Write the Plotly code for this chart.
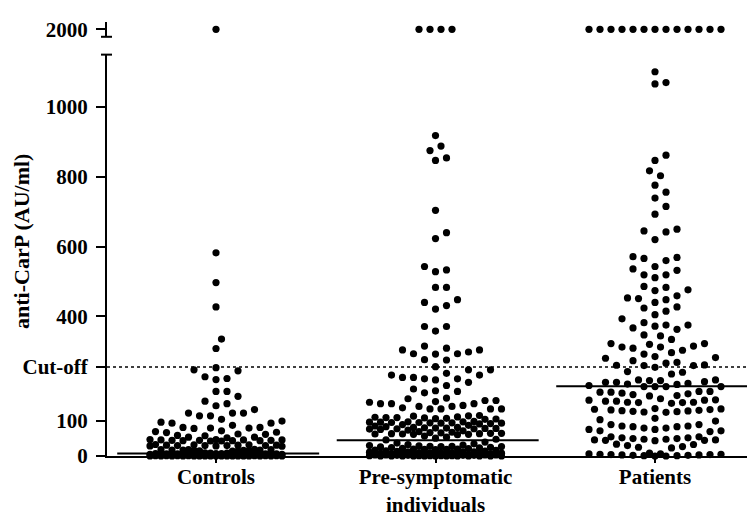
import numpy as np
import plotly.graph_objects as go

# ---------------- data ----------------
categories = ["Controls", "Pre-symptomatic<br>individuals", "Patients"]

controls = [
    2000,
    582, 497, 427, 335, 308, 253, 247, 244, 227, 222, 219, 185, 185, 171,
    157, 150, 144, 133, 123, 123, 123, 115, 115, 105, 100, 97, 94, 94, 88,
    82, 80, 79, 80, 82, 72, 68, 67, 70, 63, 58, 54, 52, 54, 59, 62,
    46, 45, 44, 47, 43, 45, 46, 44, 45, 47, 43, 44, 46,
    32, 30, 31, 29, 33, 30, 28, 31, 32, 30, 29, 31, 30,
    18, 16, 17, 15, 19, 16, 14, 17, 18, 15, 16, 17, 18,
    9, 8, 8, 7, 7, 7, 6, 6, 6, 6, 5, 5, 5, 5, 4, 4, 4, 4, 4, 3, 3, 3, 3, 3,
    2, 2, 2, 2, 2, 2, 1, 1, 1, 1, 1, 1, 1, 0, 0, 0, 0, 0, 0, 0, 0, 0, 0,
    0, 0, 0, 0, 0, 0, 0, 0,
]

presymptomatic = [
    2000, 2000, 2000, 2000,
    918, 888, 875, 854, 847, 704, 640, 623, 543, 533, 528, 483, 483,
    448, 440, 431, 421, 371, 371, 358,
    315, 309, 304, 304, 298, 293, 293, 292, 276, 275, 256, 247, 247, 237,
    232, 232, 225, 225, 221, 221, 218, 211, 202, 192, 187, 185, 181,
    166, 164, 159, 159, 156, 154, 150, 150, 150, 145, 142, 142, 138,
    135, 135, 135, 135,
    116, 115, 114, 112, 111, 110, 110, 109, 108, 107, 106, 105,
    99, 98, 98, 97, 97, 96, 96, 95, 95, 94, 94, 93, 92, 90, 88, 86, 84,
    82, 82, 81, 80, 80, 79, 79, 78, 78, 77, 76, 74, 72, 70, 68, 67, 66,
    65, 65, 64, 64, 63, 63, 62, 62, 61,
    57, 54, 51, 48, 46,
    40, 37, 35, 33, 31, 30, 29, 28, 28, 27, 27, 26, 25, 24, 23, 22, 21,
    20, 20, 19, 19, 18, 17, 16, 15, 14, 13, 12, 12, 11, 11, 10, 10, 9, 9,
    8, 8, 7, 7, 6, 6, 5, 5, 5, 4, 4, 4, 3, 3, 3, 3, 2, 2, 2, 2,
    1, 1, 1, 1, 1, 0, 0, 0, 0, 0, 0, 0, 0, 0, 0, 0, 0,
]

patients = [
    2000, 2000, 2000, 2000, 2000, 2000, 2000, 2000, 2000, 2000, 2000, 2000, 2000,
    1101, 1070, 1066, 862, 847, 817, 803, 776, 756, 739, 715, 693,
    650, 645, 642, 620, 571, 569, 566, 560, 543, 536, 532, 519, 519, 511,
    486, 483, 476, 474, 459, 453, 451, 448, 440, 427, 424, 415, 405,
    393, 382, 375, 375, 372, 367, 363, 347, 344,
    334, 322, 322, 320, 315, 312, 312, 309, 303, 296, 292, 285, 282, 280, 273,
    268, 266, 261, 260, 259, 259, 254, 242, 240, 235,
    218, 218, 216, 216, 213, 211, 211, 208, 206, 205, 202, 199, 199, 199, 199,
    185, 185, 183, 183, 180, 178, 176, 173, 172,
    164, 161, 160, 160, 157, 157, 154, 154, 153, 153, 151,
    136, 134, 132, 130, 128, 126, 125, 127, 129, 131, 133, 135,
    108, 104, 100,
    90, 86, 84, 80, 76, 72, 70, 72, 76, 80, 84, 86, 90,
    55, 52, 50, 48, 46, 45, 44, 45, 46, 48, 50, 52, 55,
    34, 30, 27, 25, 23, 33,
    8, 6, 5, 4, 3, 2, 1, 0, 0, 1, 2, 3, 4, 5, 6,
]

group_values = [controls, presymptomatic, patients]
medians = [7, 45, 200]
cut_off = 255
y_tick_values = [0, 100, 255, 400, 600, 800, 1000]
y_tick_labels = ["0", "100", "Cut-off", "400", "600", "800", "1000"]
top_tick_values = [2000]
top_tick_labels = ["2000"]

# ---------------- geometry / style ----------------
W, H = 755, 514
OFF = 8                      # page body margin of the html page
AXIS_X, AXIS_Y = 107, 456    # target page px of the axes corner
ML = AXIS_X - OFF
MR = OFF
MT = 2
MB = H - (AXIS_Y - OFF)
plot_w = W - ML - MR
plot_h = H - MT - MB
bottom_fig = AXIS_Y - OFF
x_range = [-0.4966, 2.4556]
y_range = [0, 1150]
top_range = [1900, 2100]
low_domain = [0, (bottom_fig - (51 - OFF)) / plot_h]
top_domain = [(bottom_fig - (33 - OFF)) / plot_h, (bottom_fig - (18 - OFF)) / plot_h]

px_per_cat = plot_w / (x_range[1] - x_range[0])
px_per_val = low_domain[1] * plot_h / (y_range[1] - y_range[0])

STEP = 5.5      # px, half-grid step
COLL = 10.8     # px, collision distance
MAXK = 12       # half steps each side
DOT = 7.2
FONT = "Liberation Serif"


def swarm_offsets(vals):
    """Grid beeswarm: returns x offsets (px) for each value."""
    vals = np.asarray(vals, dtype=float)
    order = np.argsort(vals, kind="stable")
    cand = [0]
    for k in range(1, MAXK + 1):
        cand += [k, -k]
    cand = np.array(cand) * STEP
    px = np.zeros(len(vals))
    placed_x, placed_y = [], []
    for idx in order:
        y = vals[idx] * px_per_val
        if not placed_x:
            px[idx] = 0.0
            placed_x.append(0.0)
            placed_y.append(y)
            continue
        ax = np.array(placed_x)
        ay = np.array(placed_y)
        mask = np.abs(ay - y) < COLL
        ax, ay = ax[mask], ay[mask]
        if len(ax) == 0:
            chosen = 0.0
        else:
            d = np.sqrt((cand[:, None] - ax[None, :]) ** 2 + (y - ay[None, :]) ** 2).min(axis=1)
            free = np.where(d >= COLL)[0]
            if len(free):
                chosen = cand[free[0]]
            else:
                chosen = cand[int(np.argmax(d))]
        px[idx] = chosen
        placed_x.append(chosen)
        placed_y.append(y)
    return px


fig = go.Figure()

# median lines
for i, m in enumerate(medians):
    fig.add_trace(go.Scatter(
        x=[i - 0.45, i + 0.47], y=[m, m], mode="lines",
        line=dict(color="black", width=2), hoverinfo="skip",
        showlegend=False, cliponaxis=False))

for i, vals in enumerate(group_values):
    vals = np.asarray(vals, dtype=float)
    low = vals[vals <= y_range[1]]
    high = vals[vals > y_range[1]]
    offs = swarm_offsets(low)
    fig.add_trace(go.Scatter(
        x=i + offs / px_per_cat, y=low, mode="markers",
        marker=dict(color="black", size=DOT, line=dict(width=0)),
        showlegend=False, cliponaxis=False, xaxis="x", yaxis="y"))
    n = len(high)
    if n:
        hoffs = (np.arange(n) - (n - 1) / 2) * 11.0
        fig.add_trace(go.Scatter(
            x=i + hoffs / px_per_cat, y=high, mode="markers",
            marker=dict(color="black", size=DOT, line=dict(width=0)),
            showlegend=False, cliponaxis=False, xaxis="x", yaxis="y2"))

tick_font = dict(family=FONT, size=21, color="black", weight="bold")

fig.update_layout(
    width=W, height=H,
    margin=dict(l=ML, r=MR, t=MT, b=MB, pad=0),
    paper_bgcolor="white", plot_bgcolor="white",
    font=dict(family=FONT, size=21, color="black", weight="bold"),
    showlegend=False,
    xaxis=dict(
        range=x_range, tickvals=[0, 1, 2], ticktext=categories,
        showline=True, linecolor="black", linewidth=2,
        ticks="outside", ticklen=5, tickwidth=2, tickcolor="black",
        ticklabelstandoff=-4,
        showgrid=False, zeroline=False,
        tickfont=dict(family=FONT, size=21, color="black", weight="bold"),
        anchor="y",
    ),
    yaxis=dict(
        domain=low_domain, range=y_range,
        tickvals=y_tick_values, ticktext=y_tick_labels,
        showline=True, linecolor="black", linewidth=2,
        ticks="outside", ticklen=9, tickwidth=2, tickcolor="black",
        ticklabelstandoff=4,
        showgrid=False, zeroline=False, tickfont=tick_font, anchor="x",
    ),
    yaxis2=dict(
        domain=top_domain, range=top_range,
        tickvals=top_tick_values, ticktext=top_tick_labels,
        showline=True, linecolor="black", linewidth=2,
        ticks="outside", ticklen=9, tickwidth=2, tickcolor="black",
        ticklabelstandoff=4,
        showgrid=False, zeroline=False, tickfont=tick_font, anchor="x",
    ),
)

# cut-off dashed line
fig.add_shape(type="line", xref="x domain", yref="y", x0=0, x1=1, y0=cut_off, y1=cut_off,
              line=dict(color="black", width=1.5, dash="3px,3px"))

# axis-break caps
cap_l, cap_r = -6 / plot_w, 5 / plot_w
for yv in (low_domain[1], top_domain[0]):
    fig.add_shape(type="line", xref="paper", yref="paper", x0=cap_l, x1=cap_r, y0=yv, y1=yv,
                  line=dict(color="black", width=2))

# y axis title
fig.add_annotation(
    text="anti-CarP (AU/ml)", textangle=-90, showarrow=False,
    xref="paper", yref="paper",
    x=(22 - AXIS_X) / plot_w, y=(AXIS_Y - 240) / plot_h,
    xanchor="center", yanchor="middle",
    font=dict(family=FONT, size=22, color="black", weight="bold"),
)

fig.write_html("out.html")
